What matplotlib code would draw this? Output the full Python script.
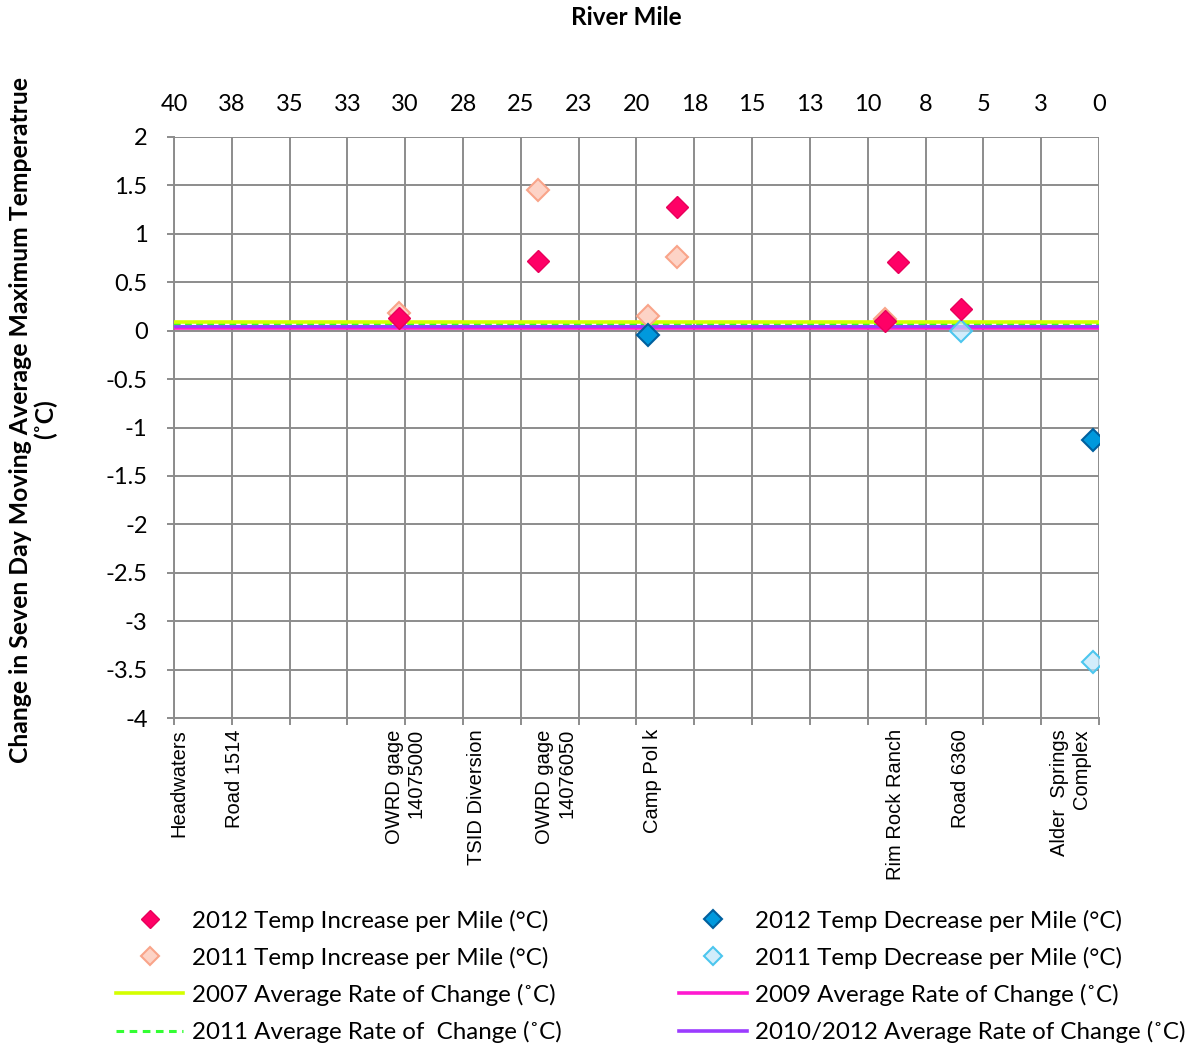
import matplotlib
matplotlib.use("Agg")
import matplotlib.pyplot as plt
from matplotlib.lines import Line2D
import numpy as np

plt.rcParams['font.family'] = ['Lato', 'DejaVu Sans']
plt.rcParams['axes.unicode_minus'] = False

# river mile positions and values (deg C per mile)
inc2012_mile = [30.27, 24.26, 18.25, 9.25, 8.7, 5.97]
inc2012_val = [0.13, 0.72, 1.28, 0.10, 0.71, 0.22]
inc2011_mile = [30.27, 24.26, 19.5, 18.25, 9.25]
inc2011_val = [0.18, 1.45, 0.15, 0.76, 0.12]
dec2012_mile = [19.5, 0.26]
dec2012_val = [-0.045, -1.13]
dec2011_mile = [5.97, 0.26]
dec2011_val = [0.0, -3.42]

avg2007 = 0.093
avg2011 = 0.069
avg2010_12 = 0.052
avg2009 = 0.025

mile_ticks = [40, 37.5, 35, 32.5, 30, 27.5, 25, 22.5, 20, 17.5, 15, 12.5, 10, 7.5, 5, 2.5, 0]
mile_labels = ['40', '38', '35', '33', '30', '28', '25', '23', '20', '18', '15', '13', '10', '8', '5', '3', '0']

site_miles = [39.8, 37.4, 30.0, 26.9, 23.5, 19.3, 8.8, 6.0, 1.25]
site_names = ['Headwaters', 'Road 1514', 'OWRD gage\n14075000', 'TSID Diversion',
              'OWRD gage\n14076050', 'Camp Pol k', 'Rim Rock Ranch', 'Road 6360',
              'Alder  Springs\nComplex']

fig = plt.figure(figsize=(11.89, 10.49), dpi=100)
ax = fig.add_axes([0.1463, 0.3155, 0.778, 0.5539])
ax.set_xlim(40, 0)
ax.set_ylim(-4, 2)

# site names along the bottom (twin axis made first so the top ticks stay put)
ax2 = ax.twiny()
ax2.set_xlim(40, 0)
ax2.xaxis.set_ticks_position('bottom')
ax2.xaxis.set_label_position('bottom')
ax2.set_xticks(site_miles)
ax2.set_xticklabels(site_names, rotation=90, va='top', ha='center', multialignment='right',
                    fontfamily='Liberation Sans', fontsize=14.5)
ax2.tick_params(axis='x', length=0, pad=8)
for s in ax2.spines.values():
    s.set_visible(False)

ax.set_xticks(mile_ticks)
ax.set_xticklabels(mile_labels)
ax.set_yticks(np.arange(-4, 2.01, 0.5))
ax.set_yticklabels(['%g' % v for v in np.arange(-4, 2.01, 0.5)])
ax.tick_params(axis='x', top=False, bottom=True, labeltop=True, labelbottom=False,
               labelsize=17, length=5, color='#8C8C8C', width=1.4, pad=11)
ax.tick_params(axis='y', labelsize=17, length=5, color='#8C8C8C', width=1.4, pad=14)
ax.grid(True, color='#8C8C8C', linewidth=1.4)
ax.set_axisbelow(True)
for s in ax.spines.values():
    s.set_color('#8C8C8C')
    s.set_linewidth(1.4)
ax.spines['top'].set_visible(False)
ax.spines['right'].set_visible(False)

# average rate of change lines
ax.axhline(avg2009, color='#FF19D0', lw=2.6, zorder=3)
ax.axhline(avg2010_12, color='#9B3CFF', lw=2.2, zorder=3)
ax.axhline(avg2011, color='#33FF33', lw=1.6, ls=(0, (3, 2)), zorder=3)
ax.axhline(avg2007, color='#D4FF00', lw=2.6, zorder=3)

ms = 11.5
ax.plot(inc2011_mile, inc2011_val, 'D', ms=ms, mfc='#FDD3C6', mec='#F9A489', mew=1.5, ls='none', zorder=4)
ax.plot(dec2011_mile, dec2011_val, 'D', ms=ms, mfc=(0.75, 0.9, 0.98, 0.7), mec='#4CC6EE', mew=1.5, ls='none', zorder=4)
ax.plot(inc2012_mile, inc2012_val, 'D', ms=ms, mfc='#FF0066', mec='#E8005A', mew=1.0, ls='none', zorder=5)
ax.plot(dec2012_mile, dec2012_val, 'D', ms=ms, mfc='#0099DD', mec='#00609E', mew=1.5, ls='none', zorder=5)

fig.text(0.527, 0.983, 'River Mile', ha='center', va='center', fontsize=17.5, fontweight='bold')
fig.text(0.028, 0.60, 'Change in Seven Day Moving Average Maximum Temperatrue\n(˚C)',
         rotation=90, ha='center', va='center', fontsize=17.8, fontweight='bold',
         multialignment='center', linespacing=1.1)

handles = [
    Line2D([], [], marker='D', ls='none', ms=9, mfc='#FF0066', mec='#E8005A'),
    Line2D([], [], marker='D', ls='none', ms=9, mfc='#FDD3C6', mec='#F9A489', mew=1.5),
    Line2D([], [], color='#D4FF00', lw=2.6),
    Line2D([], [], color='#33FF33', lw=2.2, ls=(0, (2.5, 1.8))),
    Line2D([], [], marker='D', ls='none', ms=9, mfc='#0099DD', mec='#00609E', mew=1.5),
    Line2D([], [], marker='D', ls='none', ms=9, mfc=(0.75, 0.9, 0.98, 0.7), mec='#4CC6EE', mew=1.5),
    Line2D([], [], color='#FF19D0', lw=2.6),
    Line2D([], [], color='#9B3CFF', lw=2.6),
]
labels = [
    '2012 Temp Increase per Mile (°C)',
    '2011 Temp Increase per Mile (°C)',
    '2007 Average Rate of Change (˚C)',
    '2011 Average Rate of  Change (˚C)',
    '2012 Temp Decrease per Mile (°C)',
    '2011 Temp Decrease per Mile (°C)',
    '2009 Average Rate of Change (˚C)',
    '2010/2012 Average Rate of Change (˚C)',
]
fig.legend(handles, labels, ncol=2, loc='lower left', bbox_to_anchor=(0.079, -0.015),
           frameon=False, fontsize=17.4, handlelength=2.8, handletextpad=0.35,
           labelspacing=0.62, columnspacing=4.87)

fig.savefig('out.png', dpi=100)
